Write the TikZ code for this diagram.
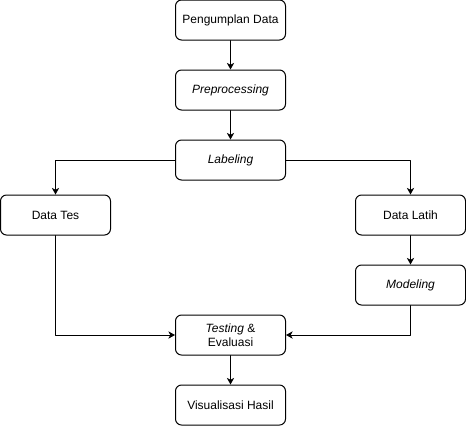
\documentclass[tikz,border=0pt]{standalone}
\usepackage{fontspec}
\setmainfont{Liberation Sans}
\usetikzlibrary{arrows.meta}
\begin{document}
\begin{tikzpicture}[x=0.75pt,y=-0.75pt,line cap=round,line join=round,
	box/.style={draw,rounded corners=4.5pt,minimum width=82.5pt,minimum height=30pt,
		align=center,inner sep=0pt,line width=0.75pt,font=\fontsize{9}{10.5}\selectfont},
	arr/.style={-{Stealth[length=5pt,width=5.5pt,inset=1.5pt]},line width=0.75pt}]
		\useasboundingbox (0,0) rectangle (466,426);
		\node[box] (pengumpulan) at (230.5,20) {Pengumplan Data};
		\node[box] (prepro) at (230.5,90) {\textit{Preprocessing}};
		\node[box] (labeling) at (230.5,160) {\textit{Labeling}};
		\node[box] (datates) at (55.5,215) {Data Tes};
		\node[box] (datalatih) at (410.5,215) {Data Latih};
		\node[box] (modeling) at (410.5,285) {\textit{Modeling}};
		\node[box] (testing) at (230.5,335) {\textit{Testing} \&\\Evaluasi};
		\node[box] (visual) at (230.5,405) {Visualisasi Hasil};
		\draw [arr] (pengumpulan) -- (prepro);
		\draw [arr] (prepro) -- (labeling);
		\draw [arr] (labeling.west) -| (datates.north);
		\draw [arr] (labeling.east) -| (datalatih.north);
		\draw [arr] (datalatih) -- (modeling);
		\draw [arr] (datates.south) |- (testing.west);
		\draw [arr] (modeling.south) |- (testing.east);
		\draw [arr] (testing) -- (visual);
		\end{tikzpicture}
\end{document}
